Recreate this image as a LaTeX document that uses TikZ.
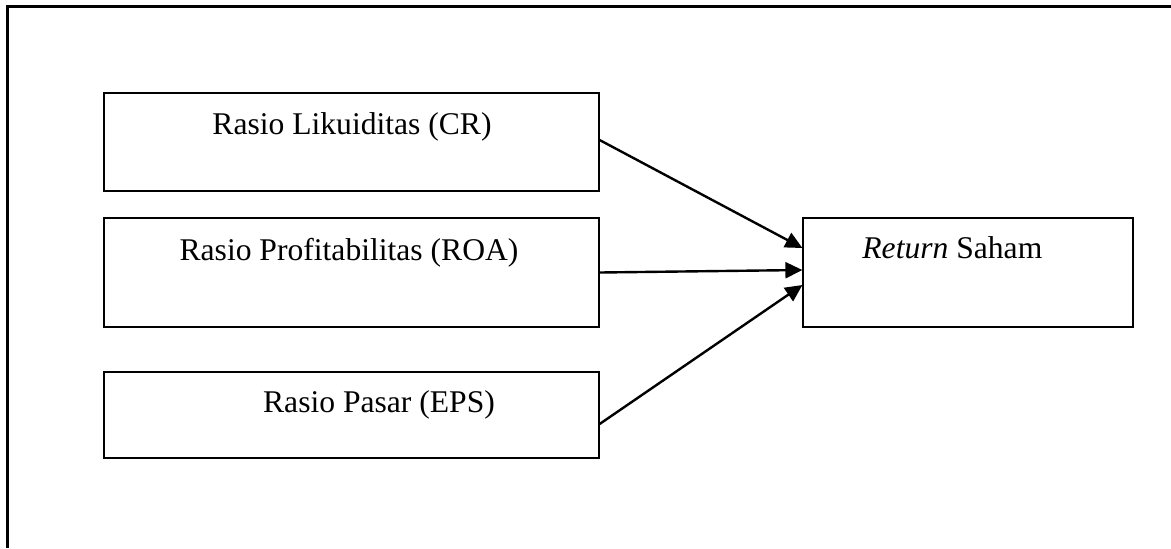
\documentclass[tikz,border=0pt]{standalone}
\usepackage{fontspec}
\setmainfont{Liberation Serif}
\usetikzlibrary{positioning}
\usetikzlibrary {arrows.meta}

\tikzset{
	box/.style={draw, line width=0.6pt, inner sep=0pt},
	arr/.style={-{Triangle[length=8.5pt,width=8pt]}, line width=1.2pt},
}

\begin{document}
\begin{tikzpicture}[x=0.5pt,y=-0.5pt,font=\fontsize{15.8}{19}\selectfont]
		\useasboundingbox (0,0) rectangle (1171,548);
		\draw[line width=1.1pt] (7.5,548) -- (7.5,6.5) -- (1171,6.5);
		
		\node[box, minimum width=247.5pt, minimum height=49pt] (cr) at (351.5,142) {};
		\draw (352,134) node[anchor=base,inner sep=0pt]{Rasio Likuiditas (CR)};
		
		\node[box, minimum width=247.5pt, minimum height=54.5pt] (roa) at (351.5,272.5) {};
		\draw (349,260) node[anchor=base,inner sep=0pt]{Rasio Profitabilitas (ROA)};
		
		\node[box, minimum width=247.5pt, minimum height=43pt] (eps) at (351.5,415) {};
		\draw (379,412) node[anchor=base,inner sep=0pt]{Rasio Pasar (EPS)};
		
		\node[box, minimum width=165pt, minimum height=54.5pt] (ret) at (968,272.5) {};
		\draw (862,258) node[anchor=base west,inner sep=0pt]{\textit{Return} Saham};
		
		\draw[arr] ([yshift=1pt]cr.east) -- ([yshift=12.25pt]ret.west);
		\draw[arr] (roa.east) -- ([yshift=1.25pt]ret.west);
		\draw[arr] ([yshift=-4.5pt]eps.east) -- ([yshift=-6.25pt]ret.west);
	\end{tikzpicture}
\end{document}
